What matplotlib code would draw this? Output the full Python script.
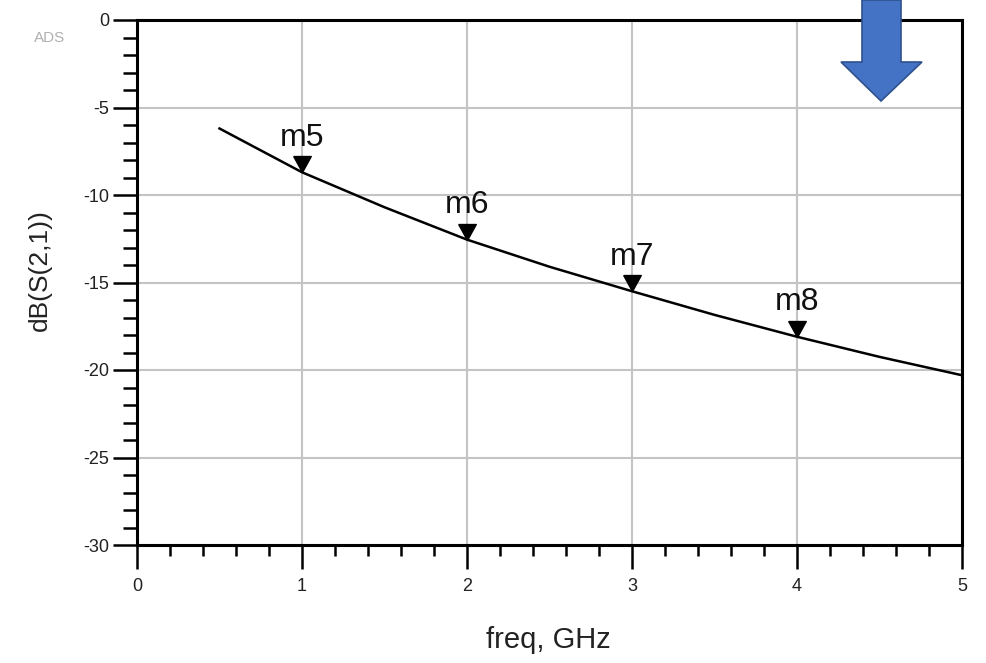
import matplotlib
matplotlib.use("Agg")
from matplotlib import pyplot as plt
from matplotlib.patches import Polygon
from matplotlib.ticker import MultipleLocator
import numpy as np

plt.rcParams['font.family'] = ['Liberation Sans', 'DejaVu Sans']
plt.rcParams['axes.unicode_minus'] = False

# curve
freq = [0.5, 1.0, 1.5, 2.0, 2.5, 3.0, 3.5, 4.0, 4.5, 5.0]
s21_db = [-6.2, -8.7, -10.7, -12.55, -14.1, -15.5, -16.85, -18.1, -19.25, -20.3]

marker_names = ['m5', 'm6', 'm7', 'm8']
marker_freq = [1.0, 2.0, 3.0, 4.0]
marker_db = [-8.7, -12.55, -15.5, -18.1]

x_ticks = [0, 1, 2, 3, 4, 5]
y_ticks = [0, -5, -10, -15, -20, -25, -30]

fig = plt.figure(figsize=(9.86, 6.63), dpi=100)
ax = fig.add_axes([137/986, 1 - 545/663, 825/986, 525/663])

ax.plot(freq, s21_db, color='black', lw=1.8, zorder=3)

# down triangle with its tip on the data point
tri = [(-0.55, 1.0), (0.55, 1.0), (0.0, 0.0), (-0.55, 1.0)]
ax.plot(marker_freq, marker_db, linestyle='none', marker=tri,
        markersize=23, color='black', zorder=4)
for name, fx, fy in zip(marker_names, marker_freq, marker_db):
    ax.annotate(name, (fx, fy), xytext=(0, 19), textcoords='offset points',
                ha='center', va='baseline', fontsize=23, color='#111111')

ax.set_xlim(0, 5)
ax.set_ylim(-30, 0)
ax.set_xticks(x_ticks)
ax.set_yticks(y_ticks)
ax.xaxis.set_minor_locator(MultipleLocator(0.2))
ax.yaxis.set_minor_locator(MultipleLocator(1))
ax.grid(True, which='major', color='#c4c4c4', lw=1.5, zorder=0)

ax.tick_params(which='major', direction='out', length=17, width=1.8,
               labelsize=13, colors='black', labelcolor='#222222')
ax.tick_params(axis='y', which='major', pad=3)
ax.tick_params(axis='x', which='major', pad=7)
ax.tick_params(axis='y', which='minor', direction='out', length=10, width=1.8, colors='black')
ax.tick_params(axis='x', which='minor', direction='out', length=8, width=1.8, colors='black')
for sp in ax.spines.values():
    sp.set_linewidth(2.2)
    sp.set_color('black')

fig.text(40/986, 1 - 270/663, 'dB(S(2,1))', rotation=90, ha='center', va='center',
         fontsize=19, color='#222222')
fig.text(548/986, 1 - 640/663, 'freq, GHz', ha='center', va='center',
         fontsize=21, color='#222222')
fig.text(50/986, 1 - 38/663, 'ADS', ha='center', va='center',
         fontsize=11, color='#b0b0b0')

# blue arrow on top
arrow_px = [(862, 0), (901, 0), (901, 62), (922, 62), (881, 101), (841, 62), (862, 62)]
arrow_fig = [(px / 986, 1 - py / 663) for px, py in arrow_px]
fig.patches.append(Polygon(arrow_fig, closed=True, transform=fig.transFigure,
                           facecolor='#4472C4', edgecolor='#2F528F', lw=1.2,
                           zorder=10, figure=fig))

fig.savefig('out.png', dpi=100)
